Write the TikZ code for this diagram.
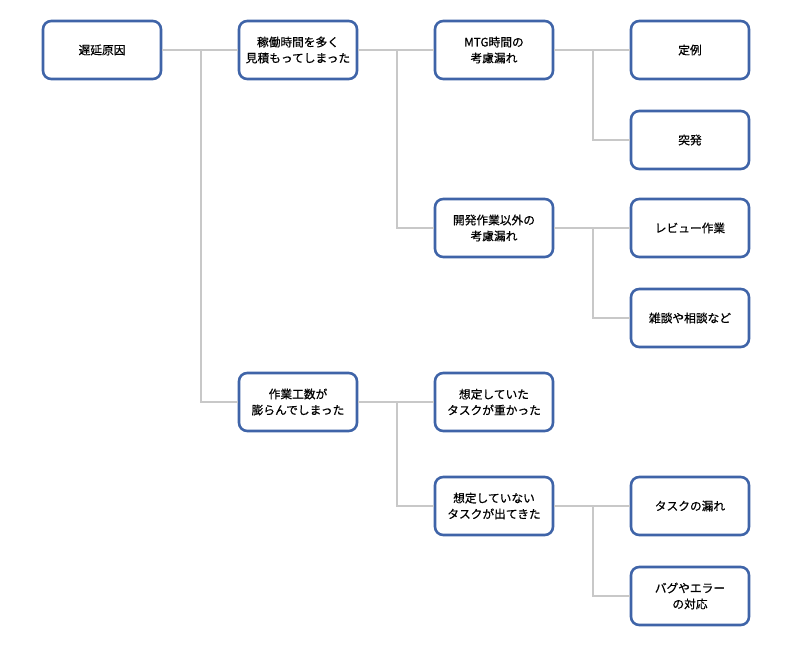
\documentclass[tikz,border=0pt]{standalone}
\usepackage{fontspec}
\setmainfont{Noto Sans CJK JP}[FakeBold=0.6,AutoFakeBold=0.6]
\usepackage{tikz}
\definecolor{cbox}{HTML}{3F64A8}
\definecolor{clink}{HTML}{C8C8C8}

\begin{document}
\begin{tikzpicture}[x=0.03cm,y=-0.03cm,
  cause/.style={draw=cbox,line width=2.2pt,rounded corners=7pt,fill=white,
    minimum width=3.54cm,minimum height=1.74cm,align=center,
    font=\fontsize{10}{13.6}\selectfont\bfseries},
  link/.style={draw=clink,line width=1.5pt}]
  \useasboundingbox (0,0) rectangle (800,651);
  % tree
  \node[cause] (root) at (102,50) {遅延原因};
  \node[cause] (over) at (298,50) {稼働時間を多く\\見積もってしまった};
  \node[cause] (mtg) at (494,50) {MTG時間の\\考慮漏れ};
  \node[cause] (teirei) at (690,50) {定例};
  \node[cause] (toppatsu) at (690,140) {突発};
  \node[cause] (other) at (494,228) {開発作業以外の\\考慮漏れ};
  \node[cause] (review) at (690,228) {レビュー作業};
  \node[cause] (chat) at (690,318) {雑談や相談など};
  \node[cause] (effort) at (298,402) {作業工数が\\膨らんでしまった};
  \node[cause] (known) at (494,402) {想定していた\\タスクが重かった};
  \node[cause] (unknown) at (494,506) {想定していない\\タスクが出てきた};
  \node[cause] (miss) at (690,506) {タスクの漏れ};
  \node[cause] (bug) at (690,596) {バグやエラー\\の対応};
  % connectors
  \draw[link] (root.east) -- ++(39,0) |- (over.west);
  \draw[link] (root.east) -- ++(39,0) |- (effort.west);
  \draw[link] (over.east) -- ++(39,0) |- (mtg.west);
  \draw[link] (over.east) -- ++(39,0) |- (other.west);
  \draw[link] (mtg.east) -- ++(39,0) |- (teirei.west);
  \draw[link] (mtg.east) -- ++(39,0) |- (toppatsu.west);
  \draw[link] (other.east) -- ++(39,0) |- (review.west);
  \draw[link] (other.east) -- ++(39,0) |- (chat.west);
  \draw[link] (effort.east) -- ++(39,0) |- (known.west);
  \draw[link] (effort.east) -- ++(39,0) |- (unknown.west);
  \draw[link] (unknown.east) -- ++(39,0) |- (miss.west);
  \draw[link] (unknown.east) -- ++(39,0) |- (bug.west);
\end{tikzpicture}
\end{document}
